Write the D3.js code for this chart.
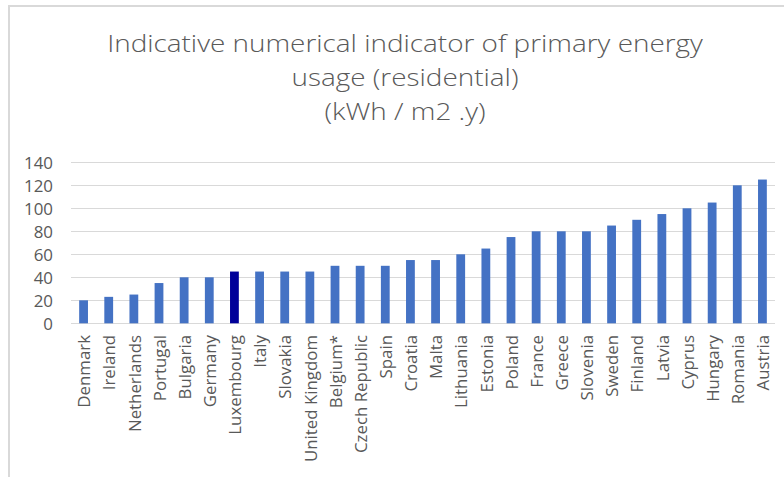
<!DOCTYPE html>
<html>
<head>
<meta charset="utf-8">
<script src="https://cdn.jsdelivr.net/npm/d3@7/dist/d3.min.js"></script>
<style>
  html, body { margin: 0; padding: 0; background: #fff; }
  svg { display: block; }
</style>
</head>
<body>
<div id="chart"></div>
<script>
var countries = ['Denmark', 'Ireland', 'Netherlands', 'Portugal', 'Bulgaria', 'Germany',
  'Luxembourg', 'Italy', 'Slovakia', 'United Kingdom', 'Belgium*', 'Czech Republic', 'Spain',
  'Croatia', 'Malta', 'Lithuania', 'Estonia', 'Poland', 'France', 'Greece', 'Slovenia',
  'Sweden', 'Finland', 'Latvia', 'Cyprus', 'Hungary', 'Romania', 'Austria'];
var values = [20, 23, 25, 35, 40, 40, 45, 45, 45, 45, 50, 50, 50, 55, 55, 60, 65, 75,
  80, 80, 80, 85, 90, 95, 100, 105, 120, 125];
var highlighted = ['Luxembourg'];
var yTicks = [0, 20, 40, 60, 80, 100, 120, 140];
var titleLines = ['Indicative numerical indicator of primary energy', 'usage (residential)', '(kWh / m2 .y)'];

var width = 784, height = 477;
var font = '"Open Sans", "Liberation Sans", sans-serif';

var svg = d3.select('#chart').append('svg')
  .attr('width', width)
  .attr('height', height);

function measure(text, size, weight){
  var t = svg.append('text')
    .style('font-family', font)
    .style('font-weight', weight)
    .style('font-size', size + 'px')
    .text(text);
  var len = t.node().getComputedTextLength();
  t.remove();
  return len;
}

// pick a font size so that a sample string gets the wanted width
function fitSize(text, target, weight){
  return 100 * target / measure(text, 100, weight);
}

var titleSize = 23.5;
// original title font is wide and light: keep glyph height, stretch sideways to the width
var titleStretch = 596 / measure(titleLines[0], titleSize, 300);
var labelSize = fitSize('United Kingdom', 127, 400);
var tickSize = fitSize('140', 29, 400);

// chart frame (only top and left edges show in the crop)
svg.append('line')
  .attr('x1', 8).attr('x2', width).attr('y1', 6).attr('y2', 6)
  .attr('stroke', '#d9d9d9').attr('stroke-width', 2);
svg.append('line')
  .attr('x1', 9).attr('x2', 9).attr('y1', 5).attr('y2', height)
  .attr('stroke', '#d9d9d9').attr('stroke-width', 2);

var x = d3.scaleBand()
  .domain(countries)
  .range([71, 775])
  .paddingInner(0.65)
  .paddingOuter(0.325);

var y = d3.scaleLinear()
  .domain([0, 140])
  .range([323.3, 162.3]);

// gridlines
svg.append('g')
  .selectAll('line')
  .data(yTicks)
  .enter()
  .append('line')
  .attr('x1', 71)
  .attr('x2', 775)
  .attr('y1', function(d){ return Math.round(y(d)) + 0.5; })
  .attr('y2', function(d){ return Math.round(y(d)) + 0.5; })
  .attr('stroke', '#d9d9d9')
  .attr('stroke-width', 1.2);

// y axis labels
var yAxis = svg.append('g')
  .attr('transform', 'translate(53,0)')
  .call(d3.axisLeft(y).tickValues(yTicks).tickSize(0).tickPadding(0));
yAxis.select('.domain').remove();
yAxis.selectAll('text')
  .attr('dy', '0.34em')
  .style('font-family', font)
  .style('font-size', tickSize + 'px')
  .attr('fill', '#595959');

// bars
svg.append('g')
  .selectAll('rect')
  .data(countries)
  .enter()
  .append('rect')
  .attr('x', function(d){ return x(d); })
  .attr('width', x.bandwidth())
  .attr('y', function(d, i){ return y(values[i]); })
  .attr('height', function(d, i){ return y(0) - y(values[i]); })
  .attr('fill', function(d){ return highlighted.indexOf(d) > -1 ? '#000099' : '#4472c4'; });

// x axis labels, rotated
var xAxis = svg.append('g')
  .attr('transform', 'translate(0,335)')
  .call(d3.axisBottom(x).tickSize(0).tickPadding(0));
xAxis.select('.domain').remove();
xAxis.selectAll('text')
  .attr('transform', 'rotate(-90)')
  .attr('text-anchor', 'end')
  .attr('x', 0)
  .attr('y', 0)
  .attr('dy', '0.4em')
  .style('font-family', font)
  .style('font-size', labelSize + 'px')
  .attr('fill', '#595959');

// title
svg.append('g')
  .attr('transform', 'translate(405,0) scale(' + titleStretch + ',1)')
  .selectAll('text')
  .data(titleLines)
  .enter()
  .append('text')
  .attr('x', 0)
  .attr('y', function(d, i){ return 52.3 + i * 34; })
  .attr('text-anchor', 'middle')
  .style('font-family', font)
  .style('font-weight', 300)
  .style('font-size', titleSize + 'px')
  .attr('fill', '#595959')
  .text(function(d){ return d; });
</script>
</body>
</html>
